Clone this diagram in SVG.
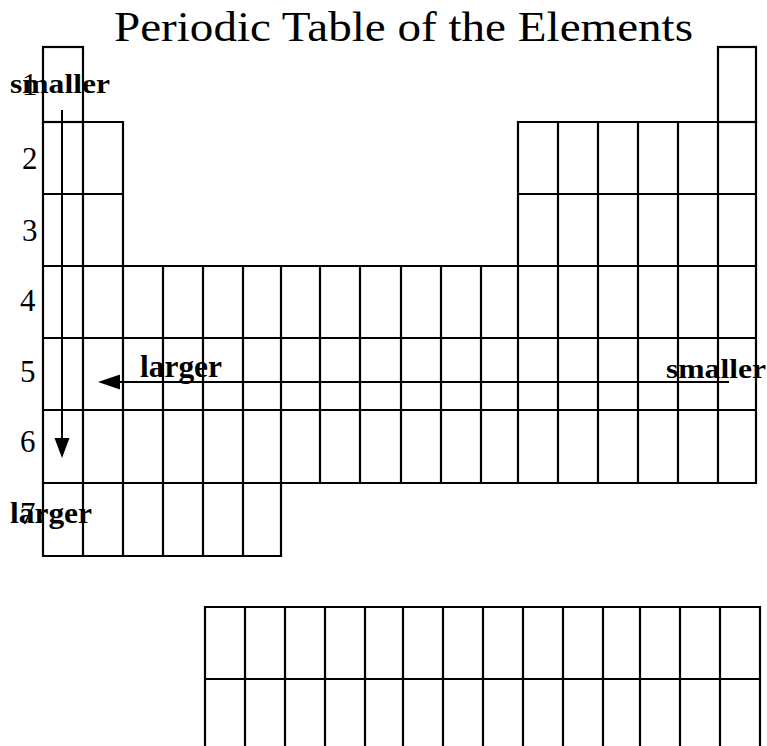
<svg xmlns="http://www.w3.org/2000/svg" width="767" height="746" viewBox="0 0 767 746">
<style>
.g{fill:none;stroke:#000;stroke-width:2.2}
.num{font-family:"Liberation Serif","Times New Roman",serif;font-size:31px;fill:#000}
.lab{font-family:"Liberation Serif","Times New Roman",serif;font-weight:bold;fill:#000}
.title{font-family:"Liberation Serif","Times New Roman",serif;font-size:42px;fill:#000}
.arr{stroke:#000;stroke-width:2;fill:none}
</style>
<rect width="767" height="746" fill="#fff"/>
<text class="title" x="114" y="41" textLength="579" lengthAdjust="spacingAndGlyphs">Periodic Table of the Elements</text>
<g id="period1">
<rect class="g" x="43" y="47" width="40" height="75"/>
<rect class="g" x="718" y="47" width="38" height="75"/>
</g>
<g id="period2-3">
<path class="g" d="M43 122H123V266M43 194H123M518 266V122H756V266M518 194H756M558 122V266M598 122V266M638 122V266M678 122V266M718 122V266"/>
</g>
<g id="period4-6">
<path class="g" d="M43 266H756V483H43ZM43 338H756M43 410H756M43 483V122M83 122V483M123 266V483M163 266V483M203 266V483M243 266V483M281 266V483M320 266V483M360 266V483M401 266V483M441 266V483M481 266V483M518 266V483M558 266V483M598 266V483M638 266V483M678 266V483M718 266V483"/>
</g>
<g id="period7">
<path class="g" d="M43 483V556H281V483M83 483V556M123 483V556M163 483V556M203 483V556M243 483V556"/>
</g>
<g id="f-block">
<path class="g" d="M205 760V607H760V760M205 679H760M245 607V760M285 607V760M325 607V760M365 607V760M403 607V760M443 607V760M483 607V760M523 607V760M563 607V760M603 607V760M640 607V760M680 607V760M720 607V760"/>
</g>
<g id="period-numbers">
<text class="num" x="22" y="95">1</text>
<text class="num" x="22" y="169">2</text>
<text class="num" x="22" y="241">3</text>
<text class="num" x="20" y="311">4</text>
<text class="num" x="20" y="382">5</text>
<text class="num" x="20" y="452">6</text>
<text class="num" x="20" y="524">7</text>
</g>
<g id="connectors">
<line class="arr" x1="62" y1="110" x2="62" y2="440"/>
<polygon points="62,458 54.5,438 69.5,438" fill="#000"/>
<line class="arr" x1="729" y1="382" x2="118" y2="382"/>
<polygon points="98,382 120,374.5 120,389.5" fill="#000"/>
</g>
<g id="labels">
<text class="lab" x="10" y="93" font-size="28" textLength="100" lengthAdjust="spacingAndGlyphs">smaller</text>
<text class="lab" x="666" y="378" font-size="28" textLength="100" lengthAdjust="spacingAndGlyphs">smaller</text>
<text class="lab" x="140" y="377" font-size="31" textLength="82" lengthAdjust="spacingAndGlyphs">larger</text>
<text class="lab" x="10" y="523" font-size="30" textLength="82" lengthAdjust="spacingAndGlyphs">larger</text>
</g>
</svg>
